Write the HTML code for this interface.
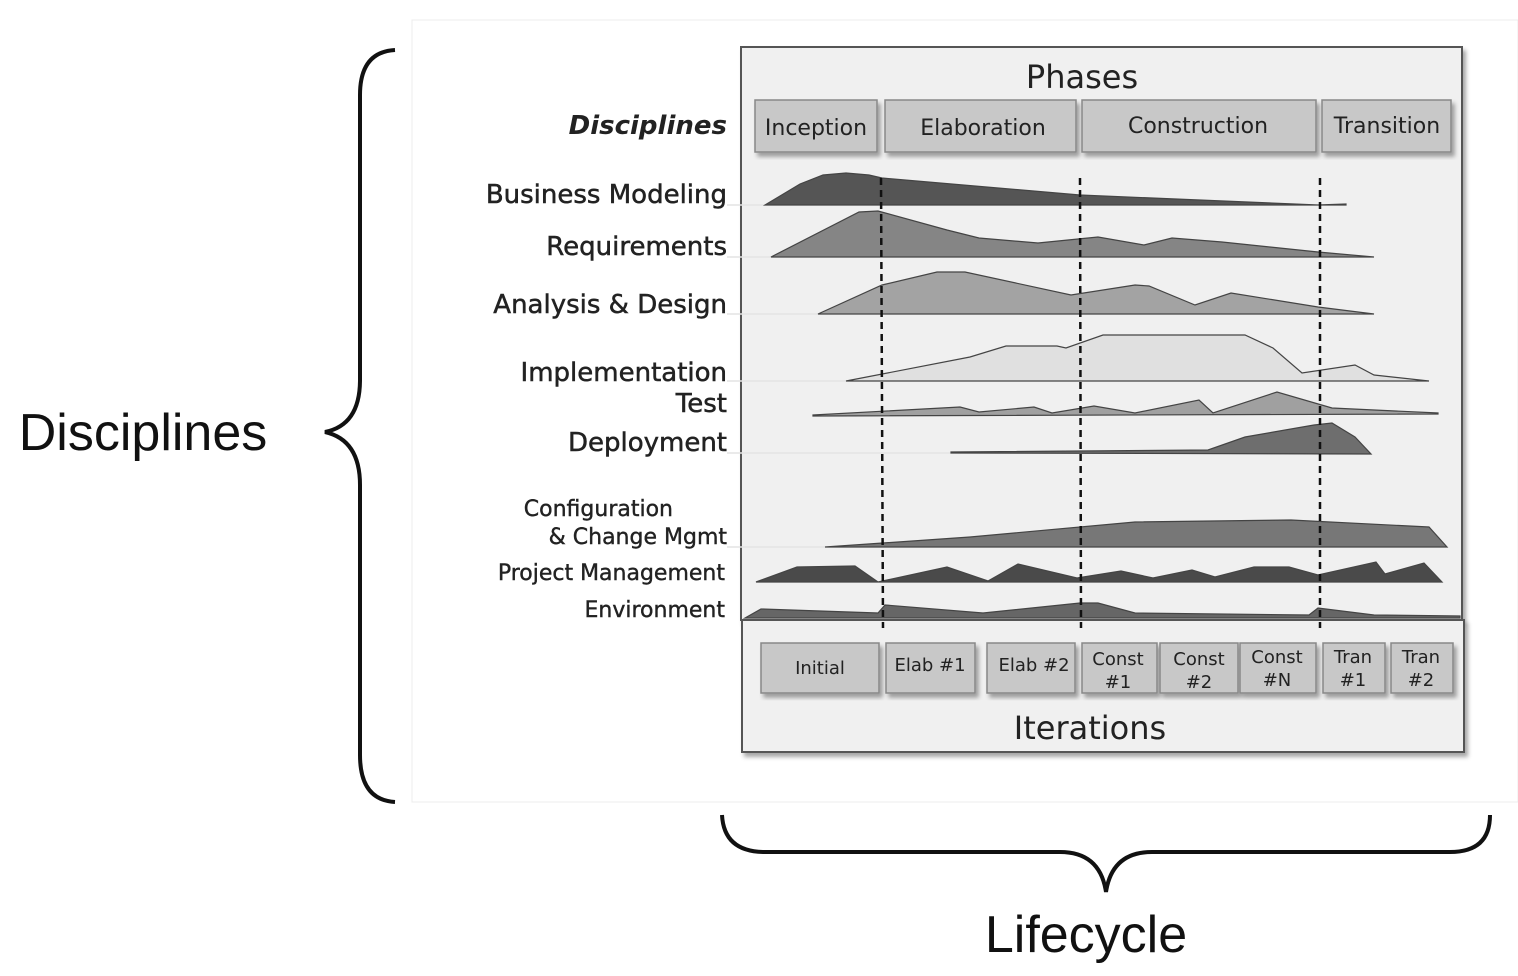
<!DOCTYPE html>
<html><head><meta charset="utf-8"><style>
body{margin:0;background:#fff;}
svg{display:block;}
.lbl{font-family:"DejaVu Sans",sans-serif;font-size:26px;fill:#222;text-anchor:end;stroke:#222;stroke-width:0.5;}
.sm{font-family:"DejaVu Sans",sans-serif;font-size:22px;fill:#222;text-anchor:end;stroke:#222;stroke-width:0.4;}
.bt{font-family:"DejaVu Sans",sans-serif;font-size:22px;fill:#222;text-anchor:middle;}
.it{font-family:"DejaVu Sans",sans-serif;font-size:18px;fill:#222;text-anchor:middle;}
.area{stroke:#444;stroke-width:1.2;}
</style></head><body>
<svg width="1518" height="976" viewBox="0 0 1518 976" xmlns="http://www.w3.org/2000/svg">
<defs><filter id="sh" x="-5%" y="-5%" width="115%" height="120%"><feDropShadow dx="3" dy="4" stdDeviation="2" flood-color="#000" flood-opacity="0.35"/></filter></defs>
<rect x="412" y="20" width="1106" height="782" fill="#fff" stroke="#ececec"/>
<rect x="741" y="47" width="721" height="573" fill="#f0f0f0" stroke="#555" stroke-width="2" filter="url(#sh)"/>
<rect x="742" y="620" width="722" height="132" fill="#f0f0f0" stroke="#555" stroke-width="2" filter="url(#sh)"/>
<text x="1082" y="88" class="bt" style="font-size:32px">Phases</text>
<g fill="#c8c8c8" stroke="#888" stroke-width="1.5" filter="url(#sh)">
<rect x="755" y="100" width="122" height="52"/><rect x="885" y="100" width="191" height="52"/><rect x="1082" y="100" width="234" height="52"/><rect x="1322" y="100" width="129" height="52"/>
</g>
<text x="816" y="135" class="bt">Inception</text><text x="983" y="135" class="bt">Elaboration</text><text x="1198" y="133" class="bt">Construction</text><text x="1387" y="133" class="bt">Transition</text>
<text x="727" y="134" class="lbl" style="font-weight:bold;font-style:italic;stroke-width:0">Disciplines</text>
<text x="727" y="203" class="lbl">Business Modeling</text>
<text x="727" y="255" class="lbl">Requirements</text>
<text x="727" y="313" class="lbl">Analysis &amp; Design</text>
<text x="727" y="381" class="lbl">Implementation</text>
<text x="727" y="412" class="lbl">Test</text>
<text x="727" y="451" class="lbl">Deployment</text>
<text x="673" y="516" class="sm">Configuration</text>
<text x="727" y="544" class="sm">&amp; Change Mgmt</text>
<text x="725" y="580" class="sm">Project Management</text>
<text x="725" y="617" class="sm">Environment</text>
<g stroke="#e4e4e4" stroke-width="1.5">
<line x1="727" y1="205" x2="765" y2="205"/><line x1="727" y1="257" x2="771" y2="257"/><line x1="727" y1="314" x2="818" y2="314"/><line x1="727" y1="381" x2="846" y2="381"/><line x1="727" y1="453" x2="951" y2="453"/><line x1="727" y1="547" x2="825" y2="547"/>
</g>
<polygon class="area" fill="#555" points="765,205 800,184 823,175 846,173 869,175 882,178 1080,195 1318,205 1346,204 1346,205"/>
<polygon class="area" fill="#858585" points="771,257 859,212 878,211 947,230 979,238 1038,243 1098,237 1144,245 1172,238 1222,242 1318,252 1374,257"/>
<polygon class="area" fill="#a3a3a3" points="818,314 882,285 937,272 965,272 1071,295 1135,285 1149,286 1195,305 1231,293 1318,307 1374,314"/>
<polygon class="area" fill="#e0e0e0" points="846,381 970,357 1006,346 1057,346 1066,348 1103,335 1245,335 1273,348 1302,373 1355,365 1374,375 1429,381"/>
<polygon class="area" fill="#a0a0a0" points="813,415 960,407 979,412 1034,407 1052,413 1094,406 1135,413 1199,400 1213,413 1277,392 1332,408 1438,413 1438,414 813,416"/>
<polygon class="area" fill="#6e6e6e" points="951,452 1208,450 1245,437 1314,425 1332,423 1355,437 1371,454 951,453"/>
<polygon class="area" fill="#777" points="825,547 970,537 1135,522 1291,520 1429,527 1447,547"/>
<polygon class="area" fill="#4a4a4a" points="756,582 797,567 855,566 878,582 947,567 988,581 1018,564 1077,578 1121,571 1153,578 1192,570 1215,577 1254,567 1289,567 1318,575 1376,562 1385,574 1424,563 1442,582"/>
<polygon class="area" fill="#666" points="745,618 761,609 878,613 885,605 983,613 1080,603 1098,603 1135,613 1309,615 1318,608 1374,615 1460,616 1460,618"/>
<g stroke="#111" stroke-width="2.5" stroke-dasharray="7,5">
<line x1="881" y1="178" x2="883" y2="628"/><line x1="1080" y1="178" x2="1081" y2="628"/><line x1="1320" y1="178" x2="1320" y2="628"/>
</g>
<g fill="#c8c8c8" stroke="#888" stroke-width="1.5" filter="url(#sh)">
<rect x="761" y="643" width="118" height="50"/><rect x="886" y="643" width="89" height="50"/><rect x="987" y="643" width="88" height="50"/><rect x="1082" y="643" width="75" height="50"/><rect x="1160" y="643" width="78" height="50"/><rect x="1240" y="643" width="76" height="50"/><rect x="1323" y="643" width="62" height="50"/><rect x="1391" y="643" width="62" height="50"/>
</g>
<text x="820" y="674" class="it">Initial</text><text x="930" y="671" class="it">Elab #1</text><text x="1034" y="671" class="it">Elab #2</text>
<text x="1118" y="665" class="it">Const</text><text x="1118" y="688" class="it">#1</text>
<text x="1199" y="665" class="it">Const</text><text x="1199" y="688" class="it">#2</text>
<text x="1277" y="663" class="it">Const</text><text x="1277" y="686" class="it">#N</text>
<text x="1353" y="663" class="it">Tran</text><text x="1353" y="686" class="it">#1</text>
<text x="1421" y="663" class="it">Tran</text><text x="1421" y="686" class="it">#2</text>
<text x="1090" y="739" class="bt" style="font-size:32px">Iterations</text>
<path d="M395,50 Q360,52 360,95 L360,380 Q360,425 325,432 Q360,440 360,485 L360,755 Q360,800 395,802" fill="none" stroke="#111" stroke-width="4"/>
<path d="M722,815 Q724,852 765,852 L1060,852 Q1100,852 1106,892 Q1112,852 1152,852 L1450,852 Q1490,852 1490,815" fill="none" stroke="#111" stroke-width="4"/>
<text x="143" y="450" style="font-family:'Liberation Sans',sans-serif;font-size:52px;text-anchor:middle" fill="#111">Disciplines</text>
<text x="1086" y="952" style="font-family:'Liberation Sans',sans-serif;font-size:52px;text-anchor:middle" fill="#111">Lifecycle</text>
</svg>
</body></html>
